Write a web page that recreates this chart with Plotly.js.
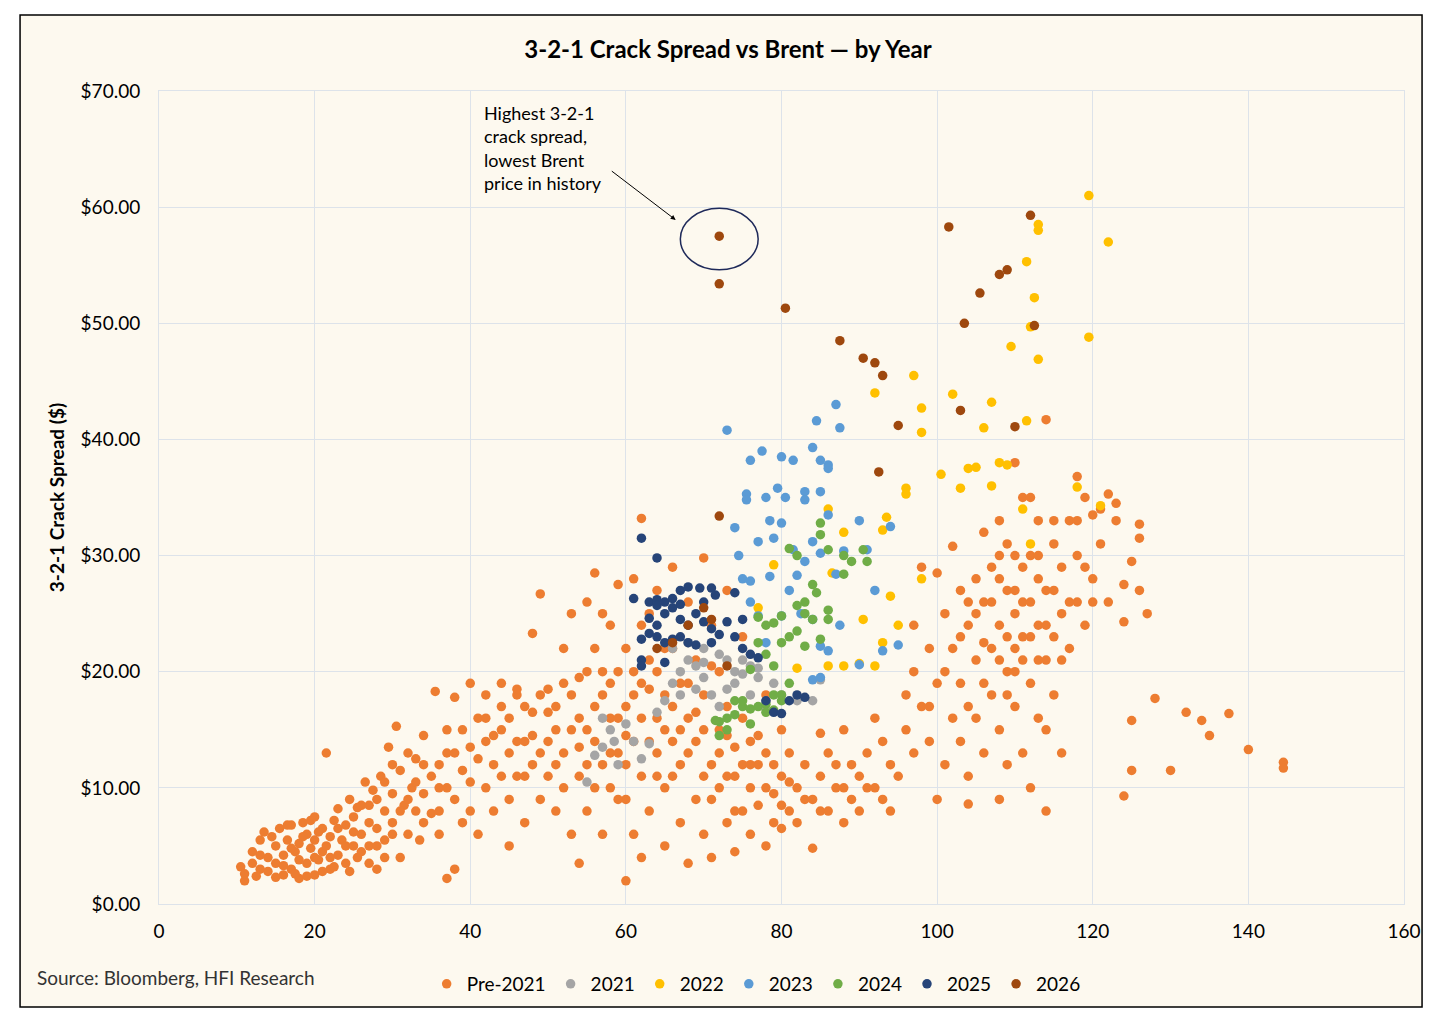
<!DOCTYPE html>
<html>
<head>
<meta charset="utf-8">
<script src="https://cdn.plot.ly/plotly-3.0.1.min.js"></script>
<style>body{margin:0;background:#fff}#chart{width:1456px;height:1025px}</style>
</head>
<body>
<div id="chart"></div>
<script>
// [brent, crack] pairs
let pre2021 = [[10.5,3.2],[11,2],[11,2.6],[12,3.5],[12,4.5],[13,3],[13,5.5],[13.5,6.2],[14,4],[14,2.8],[15,5],[15,3.5],[15.5,6.5],[16,4.2],[16,2.5],[16.5,5.5],[17,3],[17,6.8],[17.5,4.5],[18,2.2],[18,5.2],[18.5,7],[19,3.5],[19,6],[19.5,4.8],[20,2.5],[20,7.5],[20,5.5],[20.5,3.8],[21,6.5],[21,4.5],[21.5,13],[22,3],[22,5.8],[22.5,7.2],[23,4.2],[23,8.2],[23.5,5.5],[24,3.5],[24,6.8],[24.5,9],[25,5],[25,7.5],[25.5,4],[26,8.5],[26,6],[26.5,10.5],[27,5],[27,7],[27.5,9.8],[28,3],[28,6.5],[28.5,11],[29,8],[29,5.5],[29.5,13.5],[30,7],[30,9.5],[30.5,15.3],[31,4],[31,11.5],[31.5,8.5],[32,6],[32,13],[32.5,10],[33,8],[33,12.5],[33.5,5.5],[34,9.5],[34,14.5],[35,7.8],[35,11],[35.5,18.3],[36,10],[36,6],[37,13],[37,2.2],[38,9],[38,17.8],[38,3],[39,11.5],[39,15],[40,8],[40,13.5],[40,19],[41,6],[41,16],[42,10],[42,18],[43,12],[43,8],[44,15],[44,17],[45,9],[45,5],[45,13],[46,18],[46,11],[47,14],[47,7],[48,16.5],[48,12],[48,23.3],[49,26.7],[49,9],[49,18],[50,14],[50,11],[51,17],[51,8],[52,13],[52,19],[52,22],[53,6],[53,15],[53,25],[54,11],[54,16],[54,3.5],[55,20],[55,8],[55,26],[56,14],[56,22],[56,28.5],[57,12],[57,18],[57,6],[58,24],[58,16],[58,10],[59,20],[59,27.5],[59,13],[60,2],[60,9],[60,22],[60,17],[61,28],[61,14],[61,6],[62,19],[62,33.2],[62,11],[62,4],[63,21],[63,25],[63,8],[64,16],[64,13],[64,27],[65,10],[65,18],[65,5],[66,22],[66,29],[66,14],[67,7],[67,19],[67,12],[68,16],[68,3.5],[68,26],[69,9],[69,21],[69,14],[70,29.8],[70,18],[70,6],[71,12],[71,24],[71,4],[72,15],[72,10],[72,20],[73,7],[73,17],[73,27],[74,11],[74,13.5],[74,4.5],[75,8],[75,16],[75,23],[76,10],[76,6],[76,14],[77,12],[77,8.5],[78,5],[78,13],[78,18],[79,7],[79,9.5],[80,11],[80,15],[80,6.5],[81,8],[81,13],[82,10],[82,7],[83,12],[84,4.8],[84,9],[85,14.7],[85,11],[86,8],[86,13],[87,10],[88,7],[88,15],[89,9],[89,12],[90,11],[90,8],[91,13],[92,10],[92,16],[93,14],[94,12],[94,8],[95,11],[96,15],[96,18],[97,20],[97,24],[98,17],[98,29],[99,14],[99,22],[100,28.5],[100,9],[100,19],[101,12],[101,25],[102,16],[102,22],[102,30.8],[103,27],[103,19],[103,14],[104,11],[104,24],[104,8.6],[105,21],[105,28],[105,16],[106,26],[106,13],[106,32],[107,18],[107,29],[107,22],[108,9],[108,15],[108,24],[108,33],[109,20],[109,27],[109,12],[110,22],[110,30],[110,17],[110,38],[111,21],[111,26],[111,35],[111,13],[112,19],[112,23],[112,30],[112,10],[113,24],[113,28],[113,16],[113,33],[114,21],[114,8],[114,27],[114,41.7],[115,23],[115,31],[115,18],[116,25],[116,13],[116,29],[117,33],[117,22],[118,26],[118,36.8],[118,30],[119,35],[119,24],[120,28],[120,33.5],[121,31],[122,35.3],[122,26],[123,33],[123,34.5],[124,27.5],[124,9.3],[124,24.3],[125,15.8],[125,11.5],[125,29.5],[126,32.7],[126,27],[126,31.5],[127,25],[128,17.7],[130,11.5],[132,16.5],[134,15.8],[135,14.5],[137.5,16.4],[140,13.3],[144.5,12.2],[144.5,11.7],[46,18.5],[44,19],[42,14],[36,12],[37,15],[108,21],[109,23],[110,25],[106,19],[104,17],
    [12.5,2.4],[13,4.2],[14.5,5.8],[15,2.3],[16,3.3],[16.5,6.8],[17,4.8],[17.5,2.6],[18,3.8],[18.5,5.8],[19,2.4],[19.5,7.2],[20,4],[20.5,6.2],[21,2.8],[21.5,5],[22,4],[22.5,3.2],[23,6.5],[24,5],[24.5,2.8],[25,6.2],[25.5,8.3],[26,4.5],[27,3.5],[27,8.5],[28,5],[28,9],[29,4],[29,10.5],[30,6],[30,12],[31,8],[32,9],[33,10.5],[34,7],[34,12],[36,8],[37,10],[38,13],[39,7],[40,10.5],[41,12.5],[42,16],[43,14.5],[44,11],[45,16],[46,14],[47,17],[47,11],[48,14.5],[49,13],[50,16.5],[50,18.5],[51,12],[51,15],[52,10],[53,18],[54,13.5],[54,19.5],[55,12],[55,15],[56,10],[56,17],[57,20],[57,25],[58,13],[58,19],[59,16],[59,9],[60,12],[60,14.5],[61,18],[61,20],[62,16],[62,24],[63,14],[63,18.5],[64,20],[64,11],[65,15],[65,22],[66,17],[66,11],[67,15],[68,13],[68,19],[69,16.5],[70,15],[70,11],[71,20.5],[71,9],[72,13],[73,11],[73,14.5],[74,8],[75,12],[76,12],[77,14.5],[78,10],[79,12],[80,8.5],[81,10.5],[83,9],[85,8],[87,12],[88,10],[91,10],[93,9],[97,13],[99,17],[101,20],[103,23],[104,26],[105,25],[106,22.5],[107,26],[108,28],[108,30],[109,18],[109,31],[110,20],[110,27],[111,23],[111,29],[112,26],[112,35],[113,21],[113,30],[114,24],[114,15],[115,27],[115,33],[116,21],[117,26],[118,33],[119,29],[120,26],[121,34]];
let y2021 = [[55,10.5],[56,12.8],[57,13.5],[58,15],[57,16],[58.5,14],[60,15.5],[62,12.5],[63,13.8],[64,16.5],[65,17.5],[66,19],[67,20],[68,21],[69,20.5],[70,22],[70,19.5],[71,18],[72,17],[73,18.5],[74,20],[75,21],[76,20.5],[77,19.5],[78,17.5],[79,19],[80,18],[82,17.5],[84,17.5],[66,22],[68,22.5],[70,20.8],[72,21.5],[74,19],[76,18],[59,12],[61,14],[67,18],[69,18.5],[73,21],[75,19.8],[77,20.3],[78,16.8],[85,19.3]];
let y2022 = [[119.5,61],[122,57],[113,58.5],[113,58],[111.5,55.3],[112.5,52.2],[112,49.7],[119.5,48.8],[109.5,48],[113,46.9],[97,45.5],[98,42.7],[102,43.9],[107,43.2],[111.5,41.6],[104,37.5],[105,37.6],[108,38],[98,40.6],[92,44],[96,35.3],[96,35.8],[93.5,33.3],[93,32.2],[100.5,37],[103,35.8],[106,41],[109,37.8],[111,34],[118,35.9],[121,34.3],[98,28],[95,24],[93,22.5],[92,20.5],[90,20.7],[88,20.5],[86,20.5],[86.5,28.5],[88,32],[86,34],[82,20.3],[79,29.2],[77,25.5],[107,36],[112,31],[94,26.5],[90.5,24.5]];
let y2023 = [[73,40.8],[76,38.2],[77.5,39],[80,38.5],[81.5,38.2],[83,35.5],[84,39.3],[84.5,41.6],[87,43],[87.5,41],[85,38.2],[86,37.8],[86,37.5],[75.5,35.3],[75.5,34.8],[78,35],[79.5,35.8],[80.5,35],[83,34.8],[85,35.5],[84,31.2],[86,33.5],[74,32.4],[77,31.2],[78.5,33],[80,32.8],[81.5,30.5],[79,31.5],[74.5,30],[82,28.3],[83,29.5],[85,30.2],[87,28.4],[88,30.4],[90,33],[91,30.5],[94,32.5],[92,27],[75,28],[76,27.8],[78,22.5],[77,24.8],[76,26],[80,24.8],[82.5,25],[84,24.5],[85,22.2],[86,21.8],[87.5,24],[90,20.6],[93,21.8],[95,22.3],[84,19.3],[85,19.5],[81,27],[78.5,28.2]];
let y2024 = [[81,30.6],[82,30],[85,32.8],[86,30.5],[85,31.8],[88,30],[89,29.5],[90.5,30.5],[91,29.5],[88,28.4],[84,27.5],[84.5,26.8],[83,26],[82,25.7],[84,24.5],[83,25],[80,24.8],[78,24],[77,24.7],[79,24.2],[81,23],[82,23.5],[83,22.2],[85,22.8],[86,25.3],[86,24.5],[80,22.5],[77,22.5],[78,21.5],[79,20.5],[76,20.2],[74,17.5],[75,17],[76,16.8],[77,17],[78,17.2],[79,16.7],[80,17.5],[73,16],[72,15.7],[71.5,15.8],[72,14.5],[73,15],[74,16.3],[76,15.5],[78,16.5],[80,18],[79,18],[81,19],[75,17.5]];
let y2025 = [[62,31.5],[64,29.8],[63,26],[64,26.2],[65,26],[66,26.3],[67,27],[68,27.3],[69.5,27.2],[71,27.2],[71.5,26.6],[63,24.6],[64,24],[65,25],[66,25.5],[67,24.5],[68,24],[69,25],[70,24.3],[71,23.7],[72,23.2],[62,22.8],[63,23.3],[64,23],[65,22.5],[66,22.8],[67,23],[68,22.5],[69,22.3],[71,22.5],[62,21],[62,20.5],[65,20.8],[74,26.8],[74,23],[75,22],[76,21.5],[77,21.2],[78,17.5],[79,16.5],[80,16.4],[81,17.5],[82,18],[83,17.8],[75,24.5],[64,25.7],[70,26],[61,26.3],[67,25.8],[73,24.3]];
let y2026 = [[72,57.5],[72,53.4],[80.5,51.3],[87.5,48.5],[90.5,47],[92,46.6],[93,45.5],[101.5,58.3],[103.5,50],[105.5,52.6],[108,54.2],[109,54.6],[112,59.3],[112.5,49.8],[103,42.5],[110,41.1],[95,41.2],[92.5,37.2],[72,33.4],[71,24.5],[73,20.5],[66,22.5],[64,22],[70,25.5],[68,24]];

let seriesNames = ['Pre-2021','2021','2022','2023','2024','2025','2026'];
let seriesData = [pre2021, y2021, y2022, y2023, y2024, y2025, y2026];
let seriesColors = ['#ed7d31','#a5a5a5','#ffc000','#5b9bd5','#70ad47','#264478','#9e480e'];

var data = seriesData.map(function(pts, i) {
    return {
        type: 'scatter',
        mode: 'markers',
        name: seriesNames[i],
        x: pts.map(p => p[0]),
        y: pts.map(p => p[1]),
        marker: {color: seriesColors[i], size: 9.5},
    };
});

var layout = {
    width: 1456, height: 1025,
    margin: {t: 91, l: 159, b: 121, r: 52},
    paper_bgcolor: '#ffffff',
    plot_bgcolor: 'rgba(0,0,0,0)',
    font: {family: 'Lato, "Open Sans", sans-serif', size: 19, color: '#000'},
    title: {text: '<b>3-2-1 Crack Spread vs Brent — by Year</b>', x: 0.5, y: 0.96, font: {size: 24}},
    xaxis: {range: [0, 160], dtick: 20, gridcolor: '#dde3ea', zeroline: false,
            showline: true, linecolor: '#dde3ea', mirror: true,
            ticks: 'outside', ticklen: 10, tickcolor: 'rgba(0,0,0,0)'},
    yaxis: {range: [0, 70], dtick: 10, tickformat: '$,.2f', gridcolor: '#dde3ea', zeroline: false,
            showline: true, linecolor: '#dde3ea', mirror: true,
            ticks: 'outside', ticklen: 14, tickcolor: 'rgba(0,0,0,0)',
            title: {text: '<b>3-2-1 Crack Spread ($)</b>', standoff: 10, font: {size: 19}}},
    showlegend: true,
    legend: {orientation: 'h', x: 0.215, y: -0.075, xanchor: 'left', yanchor: 'top',
             bgcolor: 'rgba(0,0,0,0)', font: {size: 19}, itemwidth: 30},
    shapes: [
        {type: 'rect', xref: 'paper', yref: 'paper', x0: -0.1116, x1: 1.0145, y0: -0.1267, y1: 1.0935,
         fillcolor: '#fdf9ef', line: {color: '#000', width: 1.5}, layer: 'below'},
        {type: 'circle', xref: 'x', yref: 'y', x0: 67, x1: 77, y0: 54.6, y1: 59.9,
         line: {color: '#1f2a5a', width: 1.5}}
    ],
    annotations: [
        {xref: 'x', yref: 'y', x: 41.5, y: 69.2, xanchor: 'left', yanchor: 'top', align: 'left', showarrow: false,
         text: 'Highest 3-2-1<br>crack spread,<br>lowest Brent<br>price in history', font: {size: 18}},
        {xref: 'x', yref: 'y', axref: 'x', ayref: 'y', x: 66.4, y: 58.9, ax: 58, ay: 63.2,
         showarrow: true, arrowhead: 2, arrowsize: 1, arrowwidth: 1, arrowcolor: '#000', text: ''},
        {xref: 'paper', yref: 'paper', x: -0.1, y: -0.09, xanchor: 'left', yanchor: 'middle', showarrow: false,
         text: 'Source: Bloomberg, HFI Research', font: {size: 19, color: '#333'}}
    ]
};

Plotly.newPlot('chart', data, layout, {displayModeBar: false});
</script>
</body>
</html>
